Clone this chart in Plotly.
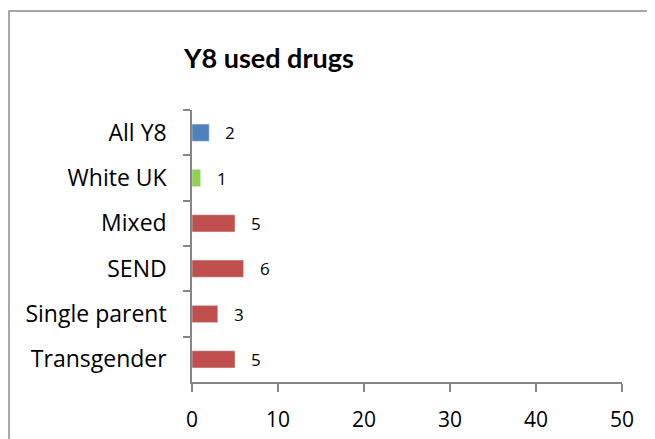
import plotly.graph_objects as go

categories = ["All Y8", "White UK", "Mixed", "SEND", "Single parent", "Transgender"]
values = [2, 1, 5, 6, 3, 5]
colors = ["#4F81BD", "#92D050", "#C0504D", "#C0504D", "#C0504D", "#C0504D"]
x_ticks = [0, 10, 20, 30, 40, 50]

# page body adds 8px offset, so plot box pixels are shifted back by 8
L, R, T, B = 184, 614, 102, 374
W, H = 655, 439

fig = go.Figure()
fig.add_trace(go.Bar(
    y=categories,
    x=values,
    orientation="h",
    marker_color=colors,
    width=0.38,
    hoverinfo="y+x",
))

# value labels to the right of each bar
for cat, val in zip(categories, values):
    fig.add_annotation(
        x=val, y=cat, text=str(val), showarrow=False,
        xanchor="left", xshift=14,
        font=dict(size=17, color="#000000"),
    )

axis_col = "#868686"
fig.update_layout(
    width=W, height=H,
    margin=dict(l=L, r=W - R, t=T, b=H - B),
    paper_bgcolor="white", plot_bgcolor="white",
    font=dict(family="Open Sans, sans-serif", color="#000000"),
    showlegend=False,
    xaxis=dict(
        range=[0, 50], tickvals=x_ticks, showgrid=False, zeroline=False,
        showline=True, linecolor=axis_col, linewidth=1.5,
        ticks="outside", ticklen=8, tickcolor=axis_col, tickwidth=1.5,
        tickfont=dict(size=21), ticklabelstandoff=10,
    ),
    yaxis=dict(
        autorange="reversed", type="category", showgrid=False,
        showline=True, linecolor=axis_col, linewidth=1.5,
        ticks="outside", ticklen=7, tickcolor=axis_col, tickwidth=1.5,
        tickson="boundaries", tickfont=dict(size=23), ticklabelstandoff=19,
    ),
)

fig.add_annotation(
    text="<b>Y8 used drugs</b>", xref="paper", yref="paper",
    x=(260 - L) / (R - L), y=(B - 49) / (B - T), showarrow=False,
    xanchor="center", yanchor="middle",
    font=dict(family="Lato, sans-serif", size=27),
)

# outer chart frame (extends past the bottom/right of the crop)
fig.add_shape(
    type="rect", xref="paper", yref="paper",
    x0=(1 - L) / (R - L), x1=1.2, y0=-0.3, y1=(B - 3) / (B - T),
    line=dict(color="#8C8C8C", width=1.5), layer="below",
)

fig.write_html("out.html")
